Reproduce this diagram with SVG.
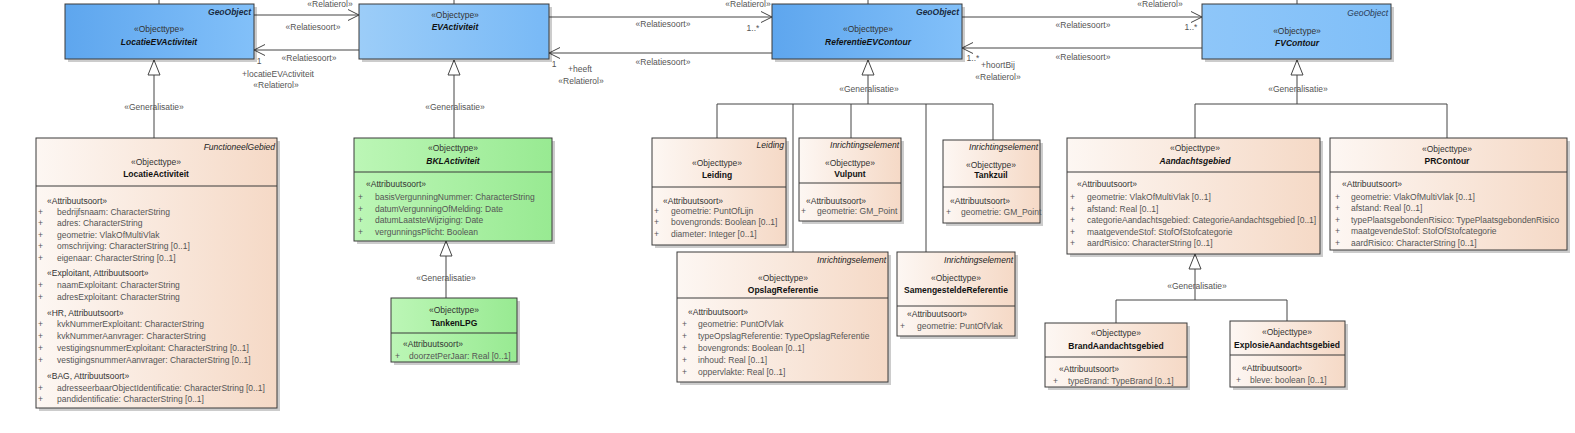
<svg xmlns="http://www.w3.org/2000/svg" width="1575" height="433" viewBox="0 0 1575 433">
<style>
text{font-family:"Liberation Sans",Arial,sans-serif;font-size:8.5px;fill:#333}
.bx{stroke:#3a3a3a;stroke-width:1}
.sh{fill:#000;opacity:.2}
.sep{stroke:#3a3a3a;stroke-width:1}
.c{text-anchor:middle}
.nm{font-weight:bold;fill:#111}
.ni{font-weight:bold;font-style:italic;fill:#111}
.tag{font-style:italic;text-anchor:end;fill:#222}
.tagb{font-style:italic;font-weight:bold;text-anchor:end;fill:#1a2a40}
.st{fill:#333}
.at{fill:#555}
.lb{fill:#555;text-anchor:middle}
.ln{stroke:#444;stroke-width:1;fill:none}
</style>
<defs>
<linearGradient id="gPeach" x1="0" y1="0" x2="1" y2="0"><stop offset="0" stop-color="#fdf7f3"/><stop offset="1" stop-color="#f5d9c6"/></linearGradient>
<linearGradient id="gBlueA" x1="0" y1="0" x2="1" y2="0"><stop offset="0" stop-color="#5ea6ee"/><stop offset="1" stop-color="#82c0f9"/></linearGradient>
<linearGradient id="gBlueB" x1="0" y1="0" x2="1" y2="0"><stop offset="0" stop-color="#9ccdf8"/><stop offset="1" stop-color="#78b9f6"/></linearGradient>
<linearGradient id="gBlueC" x1="0" y1="0" x2="1" y2="0"><stop offset="0" stop-color="#8ec6f9"/><stop offset="1" stop-color="#80bff8"/></linearGradient>
<linearGradient id="gGreen" x1="0" y1="0" x2="1" y2="0"><stop offset="0" stop-color="#bcf6b6"/><stop offset="1" stop-color="#98ea92"/></linearGradient>
<marker id="open" markerUnits="userSpaceOnUse" markerWidth="14" markerHeight="14" refX="11" refY="6" orient="auto" overflow="visible"><path d="M0,0.5 L11,6 L0,11.5" fill="none" stroke="#444" stroke-width="1"/></marker>
<marker id="gen" markerUnits="userSpaceOnUse" markerWidth="16" markerHeight="14" refX="15.5" refY="6" orient="auto" overflow="visible"><path d="M0.5,0 L15.5,6 L0.5,12 Z" fill="#fff" stroke="#444" stroke-width="1"/></marker>
</defs>
<rect width="1575" height="433" fill="#fff"/>

<g id="connectors">
<path class="ln" d="M159,0 V4 M454,0 V4 M868,0 V4 M1297,0 V4"/>
<path class="ln" d="M254,15 H359" marker-end="url(#open)"/>
<path class="ln" d="M359,50 H254" marker-end="url(#open)"/>
<path class="ln" d="M549,17 H772" marker-end="url(#open)"/>
<path class="ln" d="M772,53 H549" marker-end="url(#open)"/>
<path class="ln" d="M962,17 H1202" marker-end="url(#open)"/>
<path class="ln" d="M1202,48 H962" marker-end="url(#open)"/>
<path class="ln" d="M154,138 V60" marker-end="url(#gen)"/>
<path class="ln" d="M454,138 V60" marker-end="url(#gen)"/>
<path class="ln" d="M446,298 V241" marker-end="url(#gen)"/>
<path class="ln" d="M717,138 V104 H993 V140 M793,104 V252 M851,104 V138 M926,104 V252"/>
<path class="ln" d="M868,104 V60" marker-end="url(#gen)"/>
<path class="ln" d="M1195,138 V104 H1447 V138"/>
<path class="ln" d="M1297,104 V60" marker-end="url(#gen)"/>
<path class="ln" d="M1116,323 V300 H1287 V321"/>
<path class="ln" d="M1195,300 V254" marker-end="url(#gen)"/>
<text class="lb" x="330" y="6.5">«Relatierol»</text>
<text class="lb" x="748" y="6.5">«Relatierol»</text>
<text class="lb" x="1160" y="6.5">«Relatierol»</text>
<text class="lb" x="313" y="30">«Relatiesoort»</text>
<text class="lb" x="309" y="61">«Relatiesoort»</text>
<text class="lb" x="259" y="64">1</text>
<text class="lb" x="278" y="77">+locatieEVActiviteit</text>
<text class="lb" x="276" y="88">«Relatierol»</text>
<text class="lb" x="663" y="27">«Relatiesoort»</text>
<text class="lb" x="753" y="31">1..*</text>
<text class="lb" x="663" y="65">«Relatiesoort»</text>
<text class="lb" x="554" y="67">1</text>
<text class="lb" x="580" y="72">+heeft</text>
<text class="lb" x="581" y="84">«Relatierol»</text>
<text class="lb" x="1083" y="28">«Relatiesoort»</text>
<text class="lb" x="1191" y="30">1..*</text>
<text class="lb" x="1083" y="60">«Relatiesoort»</text>
<text class="lb" x="973" y="61">1..*</text>
<text class="lb" x="998" y="68">+hoortBij</text>
<text class="lb" x="998" y="80">«Relatierol»</text>
<text class="lb" x="154" y="110">«Generalisatie»</text>
<text class="lb" x="455" y="110">«Generalisatie»</text>
<text class="lb" x="446" y="281">«Generalisatie»</text>
<text class="lb" x="869" y="92">«Generalisatie»</text>
<text class="lb" x="1298" y="92">«Generalisatie»</text>
<text class="lb" x="1197" y="289">«Generalisatie»</text>
</g>

<g id="LocatieEVActiviteit">
<rect class="sh" x="68" y="7" width="189" height="55"/>
<rect class="bx" x="65" y="4" width="189" height="55" fill="url(#gBlueA)"/>
<text class="tagb" x="251" y="15">GeoObject</text>
<text class="st c" x="159" y="32">«Objecttype»</text>
<text class="ni c" x="159" y="45">LocatieEVActiviteit</text>
</g>

<g id="EVActiviteit">
<rect class="sh" x="362" y="7" width="190" height="55"/>
<rect class="bx" x="359" y="4" width="190" height="55" fill="url(#gBlueB)"/>
<text class="st c" x="455" y="18">«Objectype»</text>
<text class="ni c" x="455" y="30">EVActiviteit</text>
</g>

<g id="ReferentieEVContour">
<rect class="sh" x="775" y="7" width="190" height="55"/>
<rect class="bx" x="772" y="4" width="190" height="55" fill="url(#gBlueA)"/>
<text class="tagb" x="959" y="15">GeoObject</text>
<text class="st c" x="868" y="32">«Objecttype»</text>
<text class="ni c" x="868" y="45">ReferentieEVContour</text>
</g>

<g id="FVContour">
<rect class="sh" x="1205" y="7" width="189" height="55"/>
<rect class="bx" x="1202" y="4" width="189" height="55" fill="url(#gBlueC)"/>
<text class="tag" x="1388" y="16" style="fill:#2a3a55">GeoObject</text>
<text class="st c" x="1297" y="34">«Objectype»</text>
<text class="ni c" x="1297" y="46">FVContour</text>
</g>

<g id="LocatieActiviteit">
<rect class="sh" x="39" y="141" width="241" height="270"/>
<rect class="bx" x="36" y="138" width="241" height="270" fill="url(#gPeach)"/>
<line class="sep" x1="36" y1="186" x2="277" y2="186"/>
<text class="tag" x="275" y="150">FunctioneelGebied</text>
<text class="st c" x="156" y="165">«Objecttype»</text>
<text class="nm c" x="156" y="177">LocatieActiviteit</text>
<text class="st" x="47" y="204">«Attribuutsoort»</text>
<text class="at" x="38" y="214.5">+</text><text class="at" x="57" y="214.5">bedrijfsnaam: CharacterString</text>
<text class="at" x="38" y="226">+</text><text class="at" x="57" y="226">adres: CharacterString</text>
<text class="at" x="38" y="237.5">+</text><text class="at" x="57" y="237.5">geometrie: VlakOfMultiVlak</text>
<text class="at" x="38" y="249">+</text><text class="at" x="57" y="249">omschrijving: CharacterString [0..1]</text>
<text class="at" x="38" y="260.5">+</text><text class="at" x="57" y="260.5">eigenaar: CharacterString [0..1]</text>
<text class="st" x="47" y="276">«Exploitant, Attribuutsoort»</text>
<text class="at" x="38" y="288">+</text><text class="at" x="57" y="288">naamExploitant: CharacterString</text>
<text class="at" x="38" y="299.5">+</text><text class="at" x="57" y="299.5">adresExploitant: CharacterString</text>
<text class="st" x="47" y="315.5">«HR, Attribuutsoort»</text>
<text class="at" x="38" y="327">+</text><text class="at" x="57" y="327">kvkNummerExploitant: CharacterString</text>
<text class="at" x="38" y="339">+</text><text class="at" x="57" y="339">kvkNummerAanvrager: CharacterString</text>
<text class="at" x="38" y="351">+</text><text class="at" x="57" y="351">vestigingsnummerExploitant: CharacterString [0..1]</text>
<text class="at" x="38" y="362.5">+</text><text class="at" x="57" y="362.5">vestigingsnummerAanvrager: CharacterString [0..1]</text>
<text class="st" x="47" y="378.5">«BAG, Attribuutsoort»</text>
<text class="at" x="38" y="390.5">+</text><text class="at" x="57" y="390.5">adresseerbaarObjectIdentificatie: CharacterString [0..1]</text>
<text class="at" x="38" y="402">+</text><text class="at" x="57" y="402">pandidentificatie: CharacterString [0..1]</text>
</g>

<g id="BKLActiviteit">
<rect class="sh" x="357" y="141" width="198" height="103"/>
<rect class="bx" x="354" y="138" width="198" height="103" fill="url(#gGreen)"/>
<line class="sep" x1="354" y1="172" x2="552" y2="172"/>
<text class="st c" x="453" y="151">«Objecttype»</text>
<text class="ni c" x="453" y="164">BKLActiviteit</text>
<text class="st" x="366" y="186.5">«Attribuutsoort»</text>
<text class="at" x="358" y="199.7">+</text><text class="at" x="375" y="199.7">basisVergunningNummer: CharacterString</text>
<text class="at" x="358" y="211.5">+</text><text class="at" x="375" y="211.5">datumVergunningOfMelding: Date</text>
<text class="at" x="358" y="223">+</text><text class="at" x="375" y="223">datumLaatsteWijziging: Date</text>
<text class="at" x="358" y="234.7">+</text><text class="at" x="375" y="234.7">vergunningsPlicht: Boolean</text>
</g>

<g id="TankenLPG">
<rect class="sh" x="394" y="301" width="126" height="64"/>
<rect class="bx" x="391" y="298" width="126" height="64" fill="url(#gGreen)"/>
<line class="sep" x1="391" y1="333" x2="517" y2="333"/>
<text class="st c" x="454" y="313">«Objecttype»</text>
<text class="nm c" x="454" y="325.5">TankenLPG</text>
<text class="st" x="403" y="347">«Attribuutsoort»</text>
<text class="at" x="395" y="358.5">+</text><text class="at" x="409" y="358.5">doorzetPerJaar: Real [0..1]</text>
</g>

<g id="Leiding">
<rect class="sh" x="655" y="141" width="134" height="107"/>
<rect class="bx" x="652" y="138" width="134" height="107" fill="url(#gPeach)"/>
<line class="sep" x1="652" y1="187" x2="786" y2="187"/>
<text class="tag" x="784" y="148">Leiding</text>
<text class="st c" x="717" y="166.3">«Objecttype»</text>
<text class="nm c" x="717" y="177.5">Leiding</text>
<text class="st" x="663" y="203.7">«Attribuutsoort»</text>
<text class="at" x="654" y="213.7">+</text><text class="at" x="671" y="213.7">geometrie: PuntOfLijn</text>
<text class="at" x="654" y="225.3">+</text><text class="at" x="671" y="225.3">bovengronds: Boolean [0..1]</text>
<text class="at" x="654" y="237.3">+</text><text class="at" x="671" y="237.3">diameter: Integer [0..1]</text>
</g>

<g id="Vulpunt">
<rect class="sh" x="802" y="141" width="102" height="83"/>
<rect class="bx" x="799" y="138" width="102" height="83" fill="url(#gPeach)"/>
<line class="sep" x1="799" y1="183" x2="901" y2="183"/>
<text class="tag" x="899" y="148">Inrichtingselement</text>
<text class="st c" x="850" y="166">«Objecttype»</text>
<text class="nm c" x="850" y="177.3">Vulpunt</text>
<text class="st" x="806" y="204">«Attribuutsoort»</text>
<text class="at" x="801" y="213.7">+</text><text class="at" x="817" y="213.7">geometrie: GM_Point</text>
</g>

<g id="Tankzuil">
<rect class="sh" x="946" y="143" width="97" height="83"/>
<rect class="bx" x="943" y="140" width="97" height="83" fill="url(#gPeach)"/>
<line class="sep" x1="943" y1="187" x2="1040" y2="187"/>
<text class="tag" x="1038" y="150">Inrichtingselement</text>
<text class="st c" x="991" y="168">«Objecttype»</text>
<text class="nm c" x="991" y="178">Tankzuil</text>
<text class="st" x="950" y="204">«Attribuutsoort»</text>
<text class="at" x="946" y="215">+</text><text class="at" x="961" y="215">geometrie: GM_Point</text>
</g>

<g id="OpslagReferentie">
<rect class="sh" x="680" y="255" width="211" height="130"/>
<rect class="bx" x="677" y="252" width="211" height="130" fill="url(#gPeach)"/>
<line class="sep" x1="677" y1="298" x2="888" y2="298"/>
<text class="tag" x="886" y="263">Inrichtingselement</text>
<text class="st c" x="783" y="281">«Objecttype»</text>
<text class="nm c" x="783" y="293">OpslagReferentie</text>
<text class="st" x="688" y="315">«Attribuutsoort»</text>
<text class="at" x="682" y="327">+</text><text class="at" x="698" y="327">geometrie: PuntOfVlak</text>
<text class="at" x="682" y="339">+</text><text class="at" x="698" y="339">typeOpslagReferentie: TypeOpslagReferentie</text>
<text class="at" x="682" y="351">+</text><text class="at" x="698" y="351">bovengronds: Boolean [0..1]</text>
<text class="at" x="682" y="362.7">+</text><text class="at" x="698" y="362.7">inhoud: Real [0..1]</text>
<text class="at" x="682" y="374.7">+</text><text class="at" x="698" y="374.7">oppervlakte: Real [0..1]</text>
</g>

<g id="SamengesteldeReferentie">
<rect class="sh" x="900" y="255" width="118" height="84"/>
<rect class="bx" x="897" y="252" width="118" height="84" fill="url(#gPeach)"/>
<line class="sep" x1="897" y1="306" x2="1015" y2="306"/>
<text class="tag" x="1013" y="263">Inrichtingselement</text>
<text class="st c" x="956" y="281">«Objecttype»</text>
<text class="nm c" x="956" y="293">SamengesteldeReferentie</text>
<text class="st" x="907" y="317">«Attribuutsoort»</text>
<text class="at" x="900" y="329">+</text><text class="at" x="917" y="329">geometrie: PuntOfVlak</text>
</g>

<g id="Aandachtsgebied">
<rect class="sh" x="1070" y="141" width="253" height="116"/>
<rect class="bx" x="1067" y="138" width="253" height="116" fill="url(#gPeach)"/>
<line class="sep" x1="1067" y1="172" x2="1320" y2="172"/>
<text class="st c" x="1195" y="151">«Objecttype»</text>
<text class="ni c" x="1195" y="164">Aandachtsgebied</text>
<text class="st" x="1077" y="186.5">«Attribuutsoort»</text>
<text class="at" x="1070" y="199.7">+</text><text class="at" x="1087" y="199.7">geometrie: VlakOfMultiVlak [0..1]</text>
<text class="at" x="1070" y="211.5">+</text><text class="at" x="1087" y="211.5">afstand: Real [0..1]</text>
<text class="at" x="1070" y="223">+</text><text class="at" x="1087" y="223">categorieAandachtsgebied: CategorieAandachtsgebied [0..1]</text>
<text class="at" x="1070" y="234.7">+</text><text class="at" x="1087" y="234.7">maatgevendeStof: StofOfStofcategorie</text>
<text class="at" x="1070" y="246.3">+</text><text class="at" x="1087" y="246.3">aardRisico: CharacterString [0..1]</text>
</g>

<g id="PRContour">
<rect class="sh" x="1333" y="141" width="237" height="112"/>
<rect class="bx" x="1330" y="138" width="237" height="112" fill="url(#gPeach)"/>
<line class="sep" x1="1330" y1="172" x2="1567" y2="172"/>
<text class="st c" x="1447" y="152">«Objecttype»</text>
<text class="nm c" x="1447" y="164">PRContour</text>
<text class="st" x="1342" y="186.5">«Attribuutsoort»</text>
<text class="at" x="1335" y="199.7">+</text><text class="at" x="1351" y="199.7">geometrie: VlakOfMultiVlak [0..1]</text>
<text class="at" x="1335" y="211.3">+</text><text class="at" x="1351" y="211.3">afstand: Real [0..1]</text>
<text class="at" x="1335" y="222.5">+</text><text class="at" x="1351" y="222.5">typePlaatsgebondenRisico: TypePlaatsgebondenRisico</text>
<text class="at" x="1335" y="234">+</text><text class="at" x="1351" y="234">maatgevendeStof: StofOfStofcategorie</text>
<text class="at" x="1335" y="245.7">+</text><text class="at" x="1351" y="245.7">aardRisico: CharacterString [0..1]</text>
</g>

<g id="BrandAandachtsgebied">
<rect class="sh" x="1048" y="326" width="142" height="64"/>
<rect class="bx" x="1045" y="323" width="142" height="64" fill="url(#gPeach)"/>
<line class="sep" x1="1045" y1="357" x2="1187" y2="357"/>
<text class="st c" x="1116" y="336">«Objecttype»</text>
<text class="nm c" x="1116" y="348.5">BrandAandachtsgebied</text>
<text class="st" x="1059" y="372">«Attribuutsoort»</text>
<text class="at" x="1053" y="383.5">+</text><text class="at" x="1068" y="383.5">typeBrand: TypeBrand [0..1]</text>
</g>

<g id="ExplosieAandachtsgebied">
<rect class="sh" x="1233" y="324" width="115" height="66"/>
<rect class="bx" x="1230" y="321" width="115" height="66" fill="url(#gPeach)"/>
<line class="sep" x1="1230" y1="355" x2="1345" y2="355"/>
<text class="st c" x="1287" y="335">«Objecttype»</text>
<text class="nm c" x="1287" y="347.5">ExplosieAandachtsgebied</text>
<text class="st" x="1242" y="371">«Attribuutsoort»</text>
<text class="at" x="1236" y="383">+</text><text class="at" x="1250" y="383">bleve: boolean [0..1]</text>
</g>
</svg>
